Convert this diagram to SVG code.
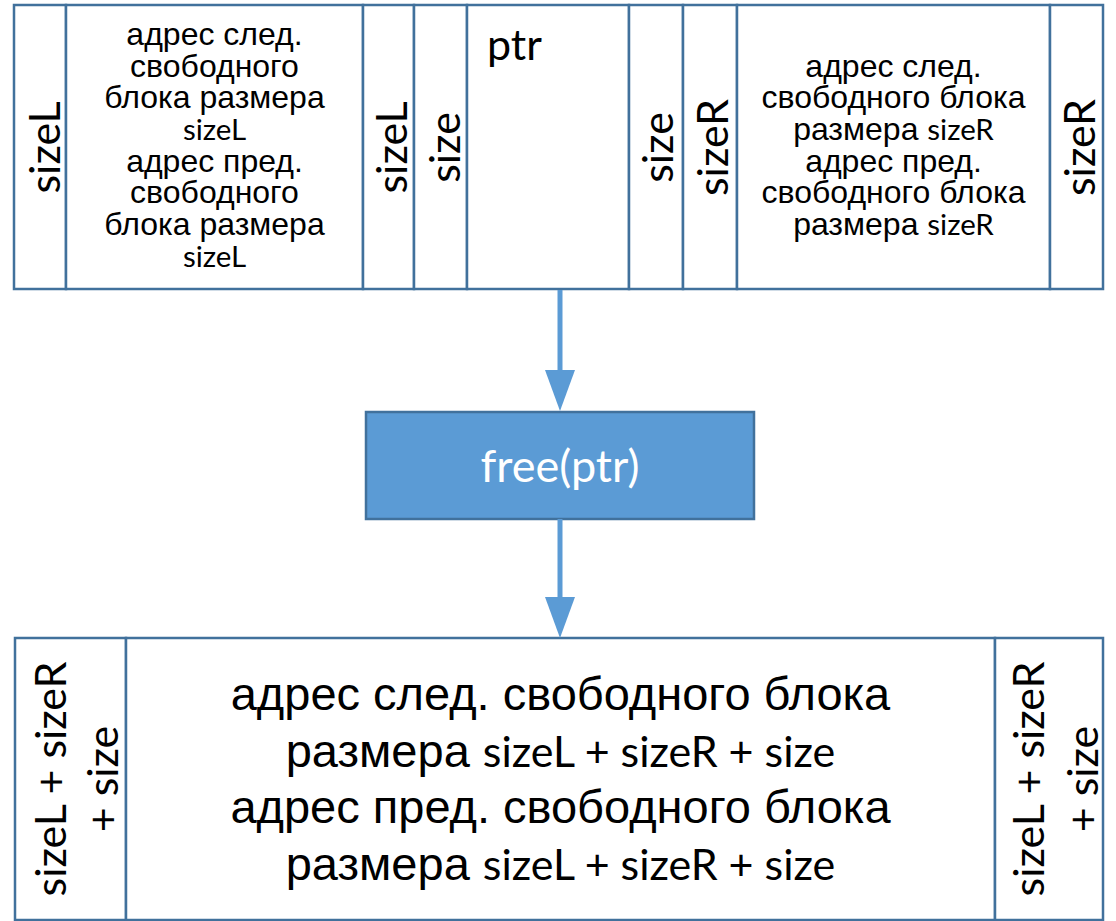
<svg xmlns="http://www.w3.org/2000/svg" width="1116" height="921" viewBox="0 0 1116 921">
<style>
.cell{fill:#ffffff;stroke:#41719C;stroke-width:2.5}
.lat{font-family:Lato,"Open Sans","DejaVu Sans",sans-serif;fill:#000}
.cyr{font-family:"Liberation Sans",Arial,sans-serif;fill:#000}
.big{font-size:47px}
.mid{font-size:32px}
.lat.big,.big .lat{font-size:43px}
.lat.mid,.mid .lat{font-size:29.5px}
.conn{stroke:#5B9BD5;stroke-width:5;fill:none}
.proc{fill:#5B9BD5;stroke:#41719C;stroke-width:2.5}
.white{fill:#ffffff;font-size:45px}
</style>
<defs>
<marker id="arrow" markerUnits="userSpaceOnUse" markerWidth="41" markerHeight="30" refX="0" refY="15" orient="auto" viewBox="0 0 41 30">
<path d="M0,0 L41,15 L0,30 z" fill="#5B9BD5"/>
</marker>
</defs>
<rect width="1116" height="921" fill="#ffffff"/>

<g id="top-sizeL-left">
<rect class="cell" x="14" y="5" width="52" height="284"/>
<text class="lat big" text-anchor="middle" transform="translate(60,147.5) rotate(-90)">sizeL</text>
</g>
<g id="top-left-free">
<rect class="cell" x="66" y="5" width="297" height="284"/>
<text class="cyr mid" text-anchor="middle" x="214.5" y="45">адрес след.</text>
<text class="cyr mid" text-anchor="middle" x="214.5" y="77">свободного</text>
<text class="cyr mid" text-anchor="middle" x="214.5" y="108">блока размера</text>
<text class="lat mid" text-anchor="middle" x="214.5" y="140">sizeL</text>
<text class="cyr mid" text-anchor="middle" x="214.5" y="172">адрес пред.</text>
<text class="cyr mid" text-anchor="middle" x="214.5" y="203">свободного</text>
<text class="cyr mid" text-anchor="middle" x="214.5" y="235">блока размера</text>
<text class="lat mid" text-anchor="middle" x="214.5" y="267">sizeL</text>
</g>
<g id="top-sizeL-right">
<rect class="cell" x="363" y="5" width="51" height="284"/>
<text class="lat big" text-anchor="middle" transform="translate(407,147.5) rotate(-90)">sizeL</text>
</g>
<g id="top-size-left">
<rect class="cell" x="414" y="5" width="53" height="284"/>
<text class="lat big" text-anchor="middle" transform="translate(460,147.5) rotate(-90)">size</text>
</g>
<g id="top-ptr">
<rect class="cell" x="467" y="5" width="162" height="284"/>
<text class="lat big" x="487" y="60">ptr</text>
</g>
<g id="top-size-right">
<rect class="cell" x="629" y="5" width="54" height="284"/>
<text class="lat big" text-anchor="middle" transform="translate(673,147.5) rotate(-90)">size</text>
</g>
<g id="top-sizeR-left">
<rect class="cell" x="683" y="5" width="54" height="284"/>
<text class="lat big" text-anchor="middle" transform="translate(728,147.5) rotate(-90)">sizeR</text>
</g>
<g id="top-right-free">
<rect class="cell" x="737" y="5" width="313" height="284"/>
<text class="cyr mid" text-anchor="middle" x="893.5" y="77">адрес след.</text>
<text class="cyr mid" text-anchor="middle" x="893.5" y="108">свободного блока</text>
<text class="cyr mid" text-anchor="middle" x="893.5" y="140">размера <tspan class="lat">sizeR</tspan></text>
<text class="cyr mid" text-anchor="middle" x="893.5" y="172">адрес пред.</text>
<text class="cyr mid" text-anchor="middle" x="893.5" y="203">свободного блока</text>
<text class="cyr mid" text-anchor="middle" x="893.5" y="235">размера <tspan class="lat">sizeR</tspan></text>
</g>
<g id="top-sizeR-right">
<rect class="cell" x="1050" y="5" width="53" height="284"/>
<text class="lat big" text-anchor="middle" transform="translate(1095,147.5) rotate(-90)">sizeR</text>
</g>

<g id="free-call">
<rect class="proc" x="366" y="412" width="388" height="107"/>
<text class="lat white" text-anchor="middle" x="560" y="482">free(ptr)</text>
</g>

<g id="bottom-size-left">
<rect class="cell" x="15" y="638" width="111" height="282"/>
<text class="lat big" text-anchor="middle" transform="translate(66,779) rotate(-90)">sizeL + sizeR</text>
<text class="lat big" text-anchor="middle" transform="translate(118,779) rotate(-90)">+ size</text>
</g>
<g id="bottom-merged-free">
<rect class="cell" x="126" y="638" width="869" height="282"/>
<text class="cyr big" text-anchor="middle" x="560.5" y="710">адрес след. свободного блока</text>
<text class="cyr big" text-anchor="middle" x="560.5" y="767">размера <tspan class="lat">sizeL + sizeR + size</tspan></text>
<text class="cyr big" text-anchor="middle" x="560.5" y="823">адрес пред. свободного блока</text>
<text class="cyr big" text-anchor="middle" x="560.5" y="880">размера <tspan class="lat">sizeL + sizeR + size</tspan></text>
</g>
<g id="bottom-size-right">
<rect class="cell" x="995" y="638" width="108" height="282"/>
<text class="lat big" text-anchor="middle" transform="translate(1044,779) rotate(-90)">sizeL + sizeR</text>
<text class="lat big" text-anchor="middle" transform="translate(1098,779) rotate(-90)">+ size</text>
</g>

<g id="connectors">
<line class="conn" x1="560" y1="290" x2="560" y2="370" marker-end="url(#arrow)"/>
<line class="conn" x1="560" y1="519" x2="560" y2="597" marker-end="url(#arrow)"/>
</g>
</svg>
